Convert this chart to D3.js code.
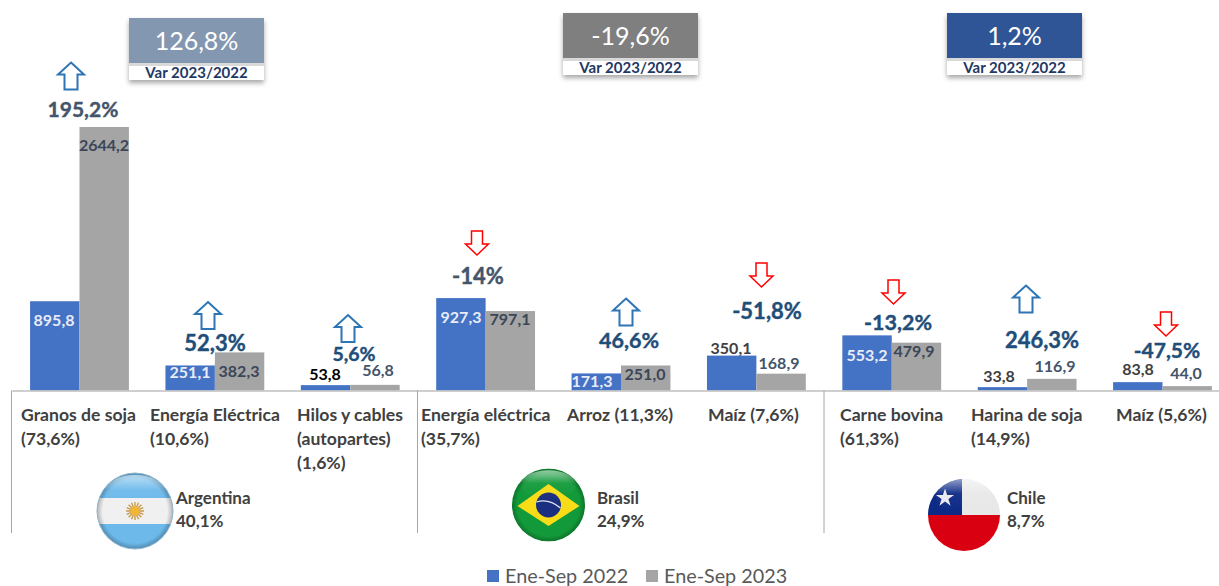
<!DOCTYPE html>
<html><head><meta charset="utf-8">
<script src="https://cdn.jsdelivr.net/npm/d3@7/dist/d3.min.js"></script>
<style>html,body{margin:0;padding:0;background:#fff;overflow:hidden}svg{display:block}text{font-family:Lato,"Open Sans",sans-serif}</style>
</head><body><div id="chart"></div>
<script>
// ---------- data ----------
const categories = [["Granos de soja","(73,6%)"],["Energía Eléctrica","(10,6%)"],["Hilos y cables","(autopartes)","(1,6%)"],
  ["Energía eléctrica","(35,7%)"],["Arroz (11,3%)"],["Maíz  (7,6%)"],["Carne bovina","(61,3%)"],["Harina de soja","(14,9%)"],["Maíz (5,6%)"]];
const series2022 = [895.8,251.1,53.8,927.3,171.3,350.1,553.2,33.8,83.8];
const series2023 = [2644.2,382.3,56.8,797.1,251.0,168.9,479.9,116.9,44.0];
const seriesNames = ["Ene-Sep 2022","Ene-Sep 2023"];
const changes = ["195,2%","52,3%","5,6%","-14%","46,6%","-51,8%","-13,2%","246,3%","-47,5%"];
const countries = ["Argentina","Brasil","Chile"];
const countryShares = ["40,1%","24,9%","8,7%"];
const totals = ["126,8%","-19,6%","1,2%"];
const totalsCaption = "Var 2023/2022";

// ---------- layout (not data) ----------
const W=1219,H=586,base=390.5,plotTop=127;
const catLabelX=[21,150,297,421,567,708,840,971,1116];
const labelY22=[320,372,374,317,381,348,355,376,369];
const labelY23=[145,371,370,319,374,363,351,366,373];
const labelX22=[54,190,325,461,592,731,867,999,1138];
const labelX23=[104,239,378,510,645,779,914,1055,1186];
const label22Color=["#e8ecf6","#e8ecf6","#000","#e8ecf6","#e8ecf6","#404040","#e8ecf6","#404040","#404040"];
const label23Color=["#3b4658","#3b4658","#44546a","#3b4658","#3b4658","#44546a","#3b4658","#44546a","#44546a"];
const changePos=[[83,109],[215,343],[354,353],[478,276],[629,340],[767,311],[898,322],[1042,340],[1167,350]];
const changeColor=["#44546a","#1f4e79","#1f4e79","#44546a","#1f4e79","#1f4e79","#1f4e79","#1f4e79","#1f4e79"];
const changeSize=[21,22,19.5,22,21.5,22,21.5,22,21];
const arrowPos=[[71,76],[208,315.5],[348,328.5],[477,243],[626,312],[761.5,275],[893.5,292],[1026,299],[1166,324]];
const boxes=[{x:129,y:18,c:"#8497b0"},{x:563,y:13,c:"#7f7f7f"},{x:947,y:13,c:"#2f5597"}];
const dividers=[11.5,417.5,824];
const countryLabelX=[176,597,1007];

const svg=d3.select("#chart").append("svg").attr("width",W).attr("height",H);
const defs=svg.append("defs");

const x=d3.scaleBand().domain(d3.range(categories.length)).range([11.8,1230.2]).paddingInner(0.27).paddingOuter(0.135);
const x2=d3.scaleBand().domain([0,1]).range([0,x.bandwidth()]);
const y=d3.scaleLinear().domain([0,2644.2]).range([base,plotTop]);

// bars
const colors=["#4472c4","#a5a5a5"];
[series2022,series2023].forEach((s,k)=>{
  svg.append("g").selectAll("rect").data(s).join("rect")
    .attr("x",(d,i)=>x(i)+x2(k)).attr("width",x2.bandwidth())
    .attr("y",d=>y(d)).attr("height",d=>base-y(d)).attr("fill",colors[k]);
});

// axis
const axis=svg.append("g").attr("transform",`translate(0,${base})`)
  .call(d3.axisBottom(x).tickSize(0).tickFormat(""));
axis.select(".domain").attr("stroke","#bfbfbf").attr("stroke-width",1.5);
axis.selectAll(".tick").remove();
svg.append("g").selectAll("line").data(dividers).join("line")
  .attr("x1",d=>d).attr("x2",d=>d).attr("y1",base).attr("y2",533)
  .attr("stroke","#a6a6a6").attr("stroke-width",1);

// category labels
const cat=svg.append("g").attr("font-size",17.6).attr("font-weight",700).attr("fill","#404040");
categories.forEach((lines,i)=>lines.forEach((t,j)=>{
  cat.append("text").attr("x",catLabelX[i]).attr("y",421+j*24).text(t);
}));

// value labels
function vals(s,xs,ys,cs){
  svg.append("g").attr("font-size",16).attr("font-weight",700).attr("text-anchor","middle")
   .selectAll("text").data(s).join("text")
   .attr("x",(d,i)=>xs[i]).attr("y",(d,i)=>ys[i]+5.5).attr("fill",(d,i)=>cs[i])
   .text(d=>d3.format(".1f")(d).replace(".",","));
}
vals(series2022,labelX22,labelY22,label22Color);
vals(series2023,labelX23,labelY23,label23Color);

// change labels
svg.append("g").attr("font-weight",700).attr("text-anchor","middle")
 .selectAll("text").data(changes).join("text")
 .attr("x",(d,i)=>changePos[i][0]).attr("y",(d,i)=>changePos[i][1]+7.5)
 .attr("font-size",(d,i)=>changeSize[i])
 .attr("fill",(d,i)=>changeColor[i]).attr("stroke",(d,i)=>changeColor[i]).attr("stroke-width",0.4)
 .text(d=>d);

// arrows
const line=d3.line();
function arrow(cx,cy,up){
  const s=up?1:-1,hw=up?13:11.5,sw=up?6.5:5.5,h=up?13.5:12,head=up?12:11;
  const pts=[[cx,cy-s*h],[cx+hw,cy-s*(h-head)],[cx+sw,cy-s*(h-head)],[cx+sw,cy+s*h],[cx-sw,cy+s*h],[cx-sw,cy-s*(h-head)],[cx-hw,cy-s*(h-head)]];
  return line(pts)+"Z";
}
svg.append("g").selectAll("path").data(changes).join("path")
 .attr("d",(d,i)=>arrow(arrowPos[i][0],arrowPos[i][1],!d.startsWith("-")))
 .attr("fill","#fff")
 .attr("stroke",d=>d.startsWith("-")?"#ff0000":"#2e75b6")
 .attr("stroke-width",d=>d.startsWith("-")?1.5:2);

// total boxes
const shadow=defs.append("filter").attr("id","sh").attr("x","-10%").attr("y","-10%").attr("width","120%").attr("height","130%");
shadow.append("feDropShadow").attr("dx",0).attr("dy",3).attr("stdDeviation",2.5).attr("flood-color","#000").attr("flood-opacity",0.35);
boxes.forEach((b,i)=>{
  const g=svg.append("g");
  g.append("rect").attr("x",b.x).attr("y",b.y).attr("width",135).attr("height",62).attr("fill","#d9d9d9").attr("filter","url(#sh)");
  g.append("rect").attr("x",b.x).attr("y",b.y).attr("width",135).attr("height",45).attr("fill",b.c);
  g.append("rect").attr("x",b.x).attr("y",b.y+48).attr("width",135).attr("height",14).attr("fill","#fff");
  g.append("text").attr("x",b.x+67.5).attr("y",b.y+32).attr("text-anchor","middle").attr("font-size",25).attr("fill","#fff").text(totals[i]);
  g.append("text").attr("x",b.x+67.5).attr("y",b.y+60).attr("text-anchor","middle").attr("font-size",15).attr("font-weight",700).attr("fill","#1f3864").text(totalsCaption);
});

// flags
function grad(id,stops,opts){
  const g=(opts&&opts.radial?defs.append("radialGradient"):defs.append("linearGradient")).attr("id",id);
  if(opts&&!opts.radial)Object.entries(opts).forEach(([k,v])=>g.attr(k,v));
  stops.forEach(s=>g.append("stop").attr("offset",s[0]).attr("stop-color",s[1]).attr("stop-opacity",s[2]===undefined?1:s[2]));
}
grad("gloss",[[0,"#fff",0.55],[0.45,"#fff",0.05],[1,"#fff",0]],{x1:0,y1:0,x2:0,y2:1});
grad("rim",[[0,"#000",0],[0.85,"#000",0],[1,"#000",0.25]],{radial:true});
function flag(id,cx,cy,r,draw){
  defs.append("clipPath").attr("id",id).append("circle").attr("cx",cx).attr("cy",cy).attr("r",r);
  const g=svg.append("g").attr("clip-path",`url(#${id})`);
  draw(g);
  return g;
}
const rc=(g,x0,y0,w,h,c)=>g.append("rect").attr("x",x0).attr("y",y0).attr("width",w).attr("height",h).attr("fill",c);
// Argentina
{const cx=135,cy=511,r=38;
 flag("fa",cx,cy,r,g=>{
  rc(g,cx-r,cy-r,2*r,2*r,"#6cb9ea");
  rc(g,cx-r,cy-13,2*r,26,"#f0f0f0");
  const rays=d3.range(16).map(i=>i*22.5);
  g.selectAll("line.r").data(rays).join("line").attr("x1",cx).attr("y1",cy).attr("x2",d=>cx+9*Math.cos(d*Math.PI/180)).attr("y2",d=>cy+9*Math.sin(d*Math.PI/180)).attr("stroke","#c99a4a").attr("stroke-width",1.4);
  g.append("circle").attr("cx",cx).attr("cy",cy).attr("r",4.5).attr("fill","#f2b632");
  g.append("circle").attr("cx",cx).attr("cy",cy).attr("r",r).attr("fill","url(#rim)");
  g.append("ellipse").attr("cx",cx).attr("cy",cy-r*0.5).attr("rx",r*0.8).attr("ry",r*0.45).attr("fill","url(#gloss)");
 });
 svg.append("circle").attr("cx",cx).attr("cy",cy).attr("r",r).attr("fill","none").attr("stroke","#8fb4cc").attr("stroke-width",1);
}
// Brazil
{const cx=548.5,cy=505,r=36.5;
 flag("fb",cx,cy,r,g=>{
  rc(g,cx-r,cy-r,2*r,2*r,"#129a3a");
  g.append("path").attr("d",line([[cx-31,cy+1],[cx,cy-21],[cx+31,cy+1],[cx,cy+21]])+"Z").attr("fill","#f7dc17");
  g.append("circle").attr("cx",cx).attr("cy",cy).attr("r",12.5).attr("fill","#1b2f80");
  g.append("path").attr("d",`M${cx-12},${cy-3}Q${cx},${cy-7} ${cx+12},${cy+3}`).attr("stroke","#dfe6f0").attr("stroke-width",1.3).attr("fill","none");
  g.append("circle").attr("cx",cx).attr("cy",cy).attr("r",r).attr("fill","url(#rim)");
  g.append("ellipse").attr("cx",cx).attr("cy",cy-r*0.55).attr("rx",r*0.75).attr("ry",r*0.4).attr("fill","url(#gloss)");
 });
}
// Chile
{const cx=964,cy=515,r=36;
 flag("fc",cx,cy,r,g=>{
  rc(g,cx-r,cy-r,2*r,r,"#e8e8e8");
  rc(g,cx-r,cy-r,r-2,r,"#0d2a86");
  rc(g,cx-r,cy,2*r,r,"#d90012");
  const star=d3.range(10).map(i=>{const a=-Math.PI/2+i*Math.PI/5,R=i%2?3.6:9.5;return [cx-19+R*Math.cos(a),cy-17+R*Math.sin(a)];});
  g.append("path").attr("d",line(star)+"Z").attr("fill","#e8e8f0");
  g.append("ellipse").attr("cx",cx).attr("cy",cy-r*0.55).attr("rx",r*0.8).attr("ry",r*0.45).attr("fill","url(#gloss)");
 });
}
// country labels
const ctry=svg.append("g").attr("font-size",17).attr("font-weight",700).attr("fill","#404040");
countries.forEach((c,i)=>{
  ctry.append("text").attr("x",countryLabelX[i]).attr("y",504).text(c);
  ctry.append("text").attr("x",countryLabelX[i]).attr("y",527).text(countryShares[i]);
});

// legend
const legX=[487,646];
const leg=svg.append("g");
seriesNames.forEach((n,i)=>{
  leg.append("rect").attr("x",legX[i]).attr("y",570).attr("width",12).attr("height",12).attr("fill",colors[i]);
  leg.append("text").attr("x",legX[i]+18).attr("y",583).attr("font-size",19.8).attr("fill","#595959").text(n);
});
</script></body></html>
